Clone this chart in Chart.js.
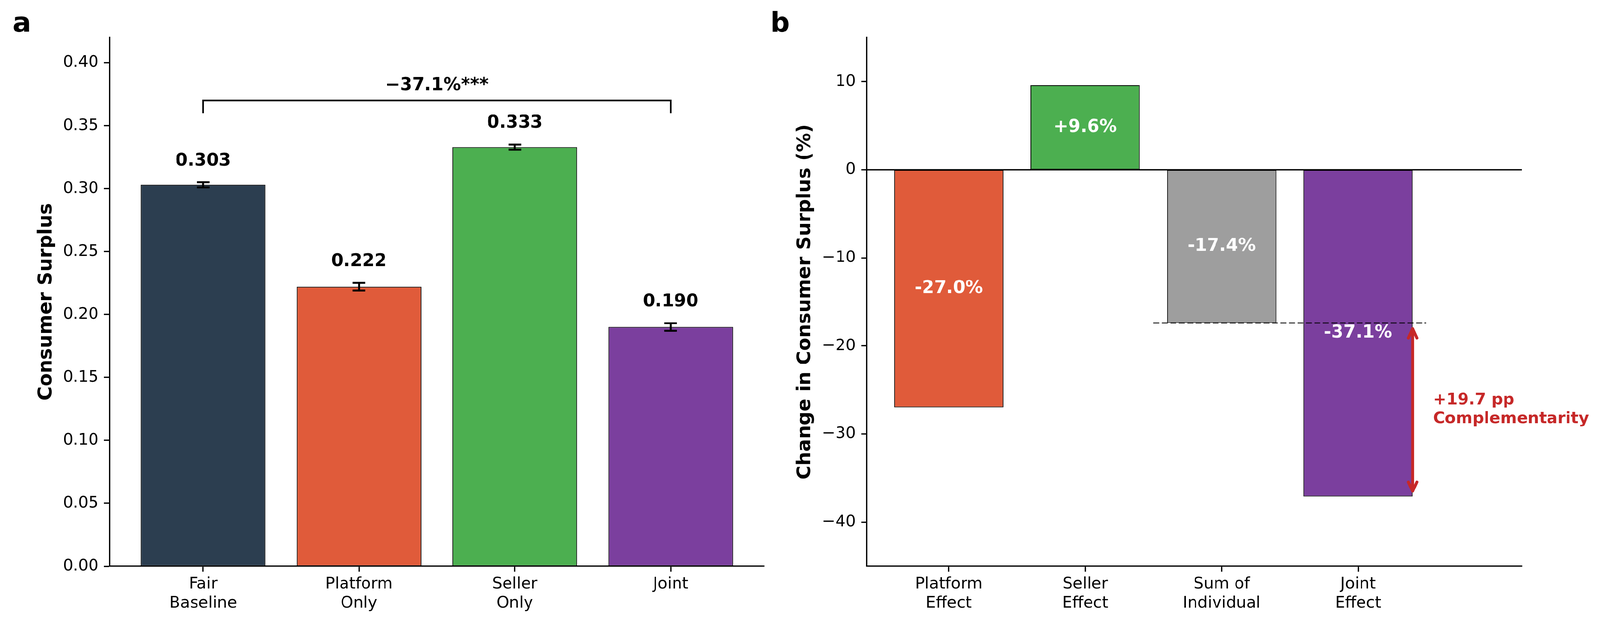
<!DOCTYPE html>
<html>
<head>
<meta charset="utf-8">
<script src="https://cdn.jsdelivr.net/npm/chart.js@4.4.1/dist/chart.umd.min.js"></script>
<style>
  html, body { margin: 0; padding: 0; background: #fff; overflow: hidden; }
  #wrap { position: relative; width: 4173px; height: 1625px; transform-origin: 0 0; }
  canvas { position: absolute; top: 0; }
</style>
</head>
<body>
<div id="wrap">
  <canvas id="chart-cs"  width="2000" height="1625" style="left:0;width:2000px;height:1625px"></canvas>
  <canvas id="chart-chg" width="2173" height="1625" style="left:2000px;width:2173px;height:1625px"></canvas>
</div>
<script>
// ── Panel a: consumer surplus by condition ──
const csLabels = ['Fair\nBaseline', 'Platform\nOnly', 'Seller\nOnly', 'Joint'];
const csValues = [0.303, 0.222, 0.333, 0.190];
const csErrors = [0.002, 0.003, 0.002, 0.003];
const csColors = ['#2C3E50', '#E05B3A', '#4CAF50', '#7B3F9E'];
const csTicks  = [0, 0.05, 0.10, 0.15, 0.20, 0.25, 0.30, 0.35, 0.40];
const csBracketText = '\u221237.1%***';

// ── Panel b: change vs baseline (%) ──
const chgLabels = ['Platform\nEffect', 'Seller\nEffect', 'Sum of\nIndividual', 'Joint\nEffect'];
const chgValues = [-27.0, 9.6, -17.4, -37.1];
const chgColors = ['#E05B3A', '#4CAF50', '#9E9E9E', '#7B3F9E'];
const chgTicks  = [-40, -30, -20, -10, 0, 10];

const PT = 300 / 72;          // matplotlib points -> px at 300 dpi
const LW = 0.8 * PT;          // spine / tick width
const FONT = 'DejaVu Sans';

// keep the whole figure inside the viewport if it is a bit smaller than the page
(function fitToViewport() {
  const k = Math.min(1, window.innerWidth / 4173, window.innerHeight / 1625);
  if (k < 1) document.getElementById('wrap').style.transform = `scale(${k})`;
})();

Chart.defaults.font.family = FONT;
Chart.defaults.color = '#000';

// ─── scale helpers ─────────────────────────────────────────
function yScale(min, max, ticks, fmt, width) {
  return {
    type: 'linear', min, max,
    afterBuildTicks: s => { s.ticks = ticks.map(v => ({ value: v })); },
    afterFit: s => { s.width = width; },
    border: { display: true, color: '#000', width: LW },
    grid: { drawOnChartArea: false, drawTicks: true, tickLength: 15, tickWidth: LW, tickColor: '#000' },
    ticks: { padding: 14, autoSkip: false, font: { size: 41.7 }, callback: fmt },
  };
}

function xScale(min, max, labels, height) {
  return {
    type: 'linear', min, max, offset: false,
    afterBuildTicks: s => { s.ticks = labels.map((_, i) => ({ value: i })); },
    afterFit: s => { s.height = height; },
    border: { display: true, color: '#000', width: LW },
    grid: { drawOnChartArea: false, offset: false, drawTicks: true, tickLength: 15, tickWidth: LW, tickColor: '#000' },
    ticks: { padding: 7, autoSkip: false, maxRotation: 0, font: { size: 41.7 },
             callback: v => (labels[v] || '').split('\n') },
  };
}

function barSet(values, colors) {
  return {
    data: values.map((v, i) => ({ x: i, y: v })),
    backgroundColor: colors,
    borderColor: '#000',
    borderWidth: 2,
    borderSkipped: false,
    barPercentage: 0.8,
    categoryPercentage: 1.0,
  };
}

function yTitle(ctx, text, x, area) {
  ctx.save();
  ctx.translate(x, (area.top + area.bottom) / 2);
  ctx.rotate(-Math.PI / 2);
  ctx.font = `bold 50px "${FONT}"`;
  ctx.fillStyle = '#000';
  ctx.textAlign = 'center';
  ctx.textBaseline = 'middle';
  ctx.fillText(text, 0, 0);
  ctx.restore();
}

function panelLetter(ctx, letter, x, y) {
  ctx.save();
  ctx.font = `bold 71px "${FONT}"`;
  ctx.fillStyle = '#000';
  ctx.textAlign = 'left';
  ctx.textBaseline = 'alphabetic';
  ctx.fillText(letter, x, y);
  ctx.restore();
}

const baseOpts = {
  responsive: false,
  animation: false,
  events: [],
  plugins: { legend: { display: false }, tooltip: { enabled: false } },
};

// ─── Panel a ───────────────────────────────────────────────
const csExtras = {
  id: 'csExtras',
  afterDatasetsDraw(chart) {
    const { ctx, chartArea, scales: { x, y } } = chart;
    const cap = 4 * PT;
    ctx.save();

    // error bars + value labels
    csValues.forEach((v, i) => {
      const px = x.getPixelForValue(i);
      const lo = y.getPixelForValue(v - csErrors[i]);
      const hi = y.getPixelForValue(v + csErrors[i]);
      ctx.strokeStyle = '#000';
      ctx.lineWidth = 1.2 * PT;
      ctx.beginPath();
      ctx.moveTo(px, lo); ctx.lineTo(px, hi);
      ctx.moveTo(px - cap, lo); ctx.lineTo(px + cap, lo);
      ctx.moveTo(px - cap, hi); ctx.lineTo(px + cap, hi);
      ctx.stroke();

      ctx.font = `bold 45.8px "${FONT}"`;
      ctx.fillStyle = '#000';
      ctx.textAlign = 'center';
      ctx.textBaseline = 'bottom';
      ctx.fillText(v.toFixed(3), px, y.getPixelForValue(v + csErrors[i] + 0.01));
    });

    // significance bracket between baseline and joint
    const x0 = x.getPixelForValue(0);
    const x1 = x.getPixelForValue(csValues.length - 1);
    const yTop = y.getPixelForValue(0.37);
    const yLeg = y.getPixelForValue(0.36);
    ctx.strokeStyle = '#000';
    ctx.lineWidth = 1 * PT;
    ctx.beginPath();
    ctx.moveTo(x0, yLeg); ctx.lineTo(x0, yTop); ctx.lineTo(x1, yTop); ctx.lineTo(x1, yLeg);
    ctx.stroke();
    ctx.font = `bold 45.8px "${FONT}"`;
    ctx.textAlign = 'center';
    ctx.textBaseline = 'bottom';
    ctx.fillText(csBracketText, (x0 + x1) / 2, y.getPixelForValue(0.375));
    ctx.restore();

    yTitle(ctx, 'Consumer Surplus', 121, chartArea);
    panelLetter(ctx, 'a', 33, 83);
  },
};

new Chart(document.getElementById('chart-cs'), {
  type: 'bar',
  data: { datasets: [barSet(csValues, csColors)] },
  options: {
    ...baseOpts,
    layout: { padding: { left: 0, right: 7, top: 98, bottom: 0 } },
    scales: {
      x: xScale(-0.6, 3.6, csLabels, 149),
      y: yScale(0, 0.42, csTicks, v => v.toFixed(2), 286),
    },
  },
  plugins: [csExtras],
});

// ─── Panel b ───────────────────────────────────────────────
const chgExtras = {
  id: 'chgExtras',
  afterDatasetsDraw(chart) {
    const { ctx, chartArea, scales: { x, y } } = chart;
    ctx.save();

    // zero line
    const y0 = y.getPixelForValue(0);
    ctx.strokeStyle = '#000';
    ctx.lineWidth = LW;
    ctx.beginPath();
    ctx.moveTo(chartArea.left, y0); ctx.lineTo(chartArea.right, y0);
    ctx.stroke();

    // labels inside bars
    ctx.font = `bold 45.8px "${FONT}"`;
    ctx.fillStyle = '#fff';
    ctx.textAlign = 'center';
    ctx.textBaseline = 'middle';
    chgValues.forEach((v, i) => {
      const txt = (v > 0 ? '+' : '') + v.toFixed(1) + '%';
      ctx.fillText(txt, x.getPixelForValue(i), y.getPixelForValue(v / 2));
    });

    // dashed reference at sum of individual effects
    const sum = chgValues[2], joint = chgValues[3];
    const ySum = y.getPixelForValue(sum);
    ctx.strokeStyle = 'rgba(0,0,0,0.72)';
    ctx.lineWidth = 3.8;
    ctx.setLineDash([15.4, 6.7]);
    ctx.beginPath();
    ctx.moveTo(x.getPixelForValue(1.5), ySum);
    ctx.lineTo(x.getPixelForValue(3.5), ySum);
    ctx.stroke();
    ctx.setLineDash([]);

    // double arrow for complementarity gap
    const red = '#C62828';
    const ax = x.getPixelForValue(3.4);
    const yA = ySum + 15;
    const yB = y.getPixelForValue(joint) - 14;
    const hl = 24, hw = 11;
    ctx.strokeStyle = red;
    ctx.lineWidth = 7.5;
    ctx.lineCap = 'round';
    ctx.lineJoin = 'round';
    ctx.beginPath();
    ctx.moveTo(ax, yA); ctx.lineTo(ax, yB);
    ctx.moveTo(ax - hw, yA + hl); ctx.lineTo(ax, yA); ctx.lineTo(ax + hw, yA + hl);
    ctx.moveTo(ax - hw, yB - hl); ctx.lineTo(ax, yB); ctx.lineTo(ax + hw, yB - hl);
    ctx.stroke();

    const gap = Math.abs(joint - sum).toFixed(1);
    const ty = y.getPixelForValue((sum + joint) / 2);
    ctx.font = `bold 41.7px "${FONT}"`;
    ctx.fillStyle = red;
    ctx.textAlign = 'left';
    ctx.textBaseline = 'middle';
    ctx.fillText(`+${gap} pp`, x.getPixelForValue(3.55), ty - 25);
    ctx.fillText('Complementarity', x.getPixelForValue(3.55), ty + 24);
    ctx.restore();

    yTitle(ctx, 'Change in Consumer Surplus (%)', 100, chartArea);
    panelLetter(ctx, 'b', 9, 83);
  },
};

new Chart(document.getElementById('chart-chg'), {
  type: 'bar',
  data: { datasets: [barSet(chgValues, chgColors)] },
  options: {
    ...baseOpts,
    layout: { padding: { left: 0, right: 204, top: 98, bottom: 0 } },
    scales: {
      x: xScale(-0.6, 4.2, chgLabels, 149),
      y: yScale(-45, 15, chgTicks, v => (v < 0 ? '\u2212' + Math.abs(v) : String(v)), 261),
    },
  },
  plugins: [chgExtras],
});
</script>
</body>
</html>
